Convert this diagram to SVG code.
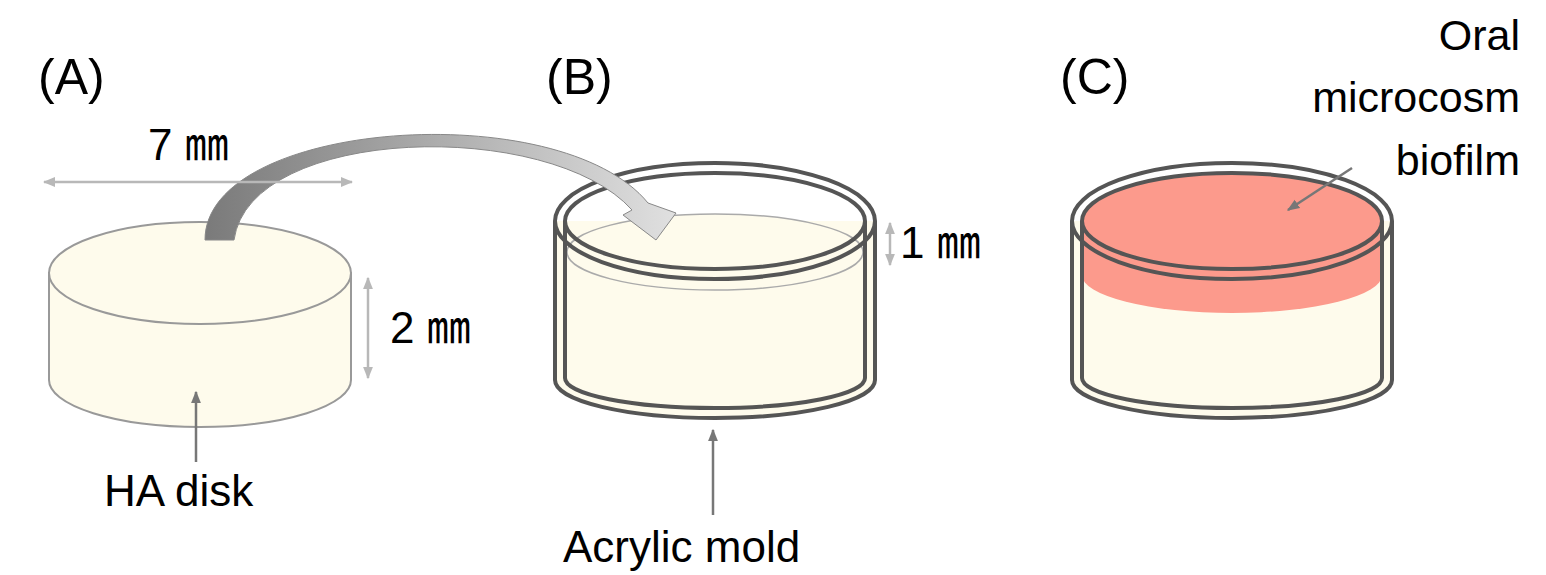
<svg xmlns="http://www.w3.org/2000/svg" width="1546" height="575" viewBox="0 0 1546 575">
<defs>
<style>
.t{font-family:"Liberation Sans","Noto Sans CJK JP",sans-serif;fill:#000}
.dim{stroke:#b8b8b8;stroke-width:2.5;fill:none}
.ptr{stroke:#777;stroke-width:2.5;fill:none}
.w{fill:none;stroke:#555;stroke-width:4}
</style>
<marker id="dh" viewBox="0 0 10 10" refX="9" refY="5" markerWidth="5" markerHeight="5" orient="auto-start-reverse"><path d="M0,1 L10,5 L0,9 Z" fill="#b8b8b8"/></marker>
<marker id="ph" viewBox="0 0 10 10" refX="9" refY="5" markerWidth="5" markerHeight="5" orient="auto"><path d="M0,1 L10,5 L0,9 Z" fill="#777"/></marker>
<linearGradient id="ag" x1="0" y1="0" x2="1" y2="0"><stop offset="0" stop-color="#7a7a7a"/><stop offset="1" stop-color="#e0e0e0"/></linearGradient>
</defs>
<g id="labels">
<text class="t" x="38" y="94" font-size="50">(A)</text>
<text class="t" x="546" y="94" font-size="50">(B)</text>
<text class="t" x="1060" y="94" font-size="50">(C)</text>
</g>
<g id="ha-disk">
<path d="M49,273 V380 A151,47 0 0 0 351,380 V273 Z" fill="#fefbec" stroke="#999" stroke-width="2"/>
<ellipse cx="200" cy="273" rx="151" ry="51" fill="#fefbec" stroke="#999" stroke-width="2"/>
<text class="t" x="104" y="506" font-size="44">HA disk</text>
</g>
<g id="mold-b">
<path d="M555,221 V380 A160,38 0 0 0 875,380 V221 Z" fill="#fefbec"/>
<ellipse cx="715" cy="252" rx="148" ry="38" fill="#fefbec" stroke="#aaa" stroke-width="1.5"/>
<path d="M555,221 V380 A160,38 0 0 0 875,380 V221" class="w"/>
<path d="M565,221 V378 A150,30 0 0 0 865,378 V221" class="w"/>
<ellipse cx="715" cy="221" rx="160" ry="58" class="w"/>
<ellipse cx="715" cy="221" rx="150" ry="48" class="w"/>
<text class="t" x="563" y="562" font-size="44">Acrylic mold</text>
</g>
<g id="mold-c">
<path d="M1072,221 V380 A160,38 0 0 0 1392,380 V221 Z" fill="#fefbec"/>
<path d="M1082,221 V275 A150,38 0 0 0 1382,275 V221 Z" fill="#fc9a8c"/>
<ellipse cx="1232" cy="221" rx="150" ry="48" fill="#fc9a8c"/>
<path d="M1072,221 V380 A160,38 0 0 0 1392,380 V221" class="w"/>
<path d="M1082,221 V378 A150,30 0 0 0 1382,378 V221" class="w"/>
<ellipse cx="1232" cy="221" rx="160" ry="58" class="w"/>
<ellipse cx="1232" cy="221" rx="150" ry="48" class="w"/>
<text class="t" font-size="43" text-anchor="end"><tspan x="1520" y="50">Oral</tspan><tspan x="1520" y="112">microcosm</tspan><tspan x="1520" y="175">biofilm</tspan></text>
</g>
<g id="connectors">
<path d="M205,240 C205,120 560,95 648,203 L676,213 L656,240 L623,215 L632,210 C550,118 250,125 234,240 Z" fill="url(#ag)" stroke="#888" stroke-width="1"/>
<line x1="44" y1="182" x2="352" y2="182" class="dim" marker-start="url(#dh)" marker-end="url(#dh)"/>
<line x1="368" y1="278" x2="368" y2="378" class="dim" marker-start="url(#dh)" marker-end="url(#dh)"/>
<line x1="890" y1="223" x2="890" y2="265" class="dim" marker-start="url(#dh)" marker-end="url(#dh)"/>
<line x1="196" y1="462" x2="196" y2="392" class="ptr" marker-end="url(#ph)"/>
<line x1="713" y1="515" x2="713" y2="430" class="ptr" marker-end="url(#ph)"/>
<line x1="1352" y1="168" x2="1288" y2="210" class="ptr" marker-end="url(#ph)"/>
<text class="t" x="148" y="160" font-size="44">7 ㎜</text>
<text class="t" x="390" y="343" font-size="44">2 ㎜</text>
<text class="t" x="900" y="258" font-size="44">1 ㎜</text>
</g>
</svg>
